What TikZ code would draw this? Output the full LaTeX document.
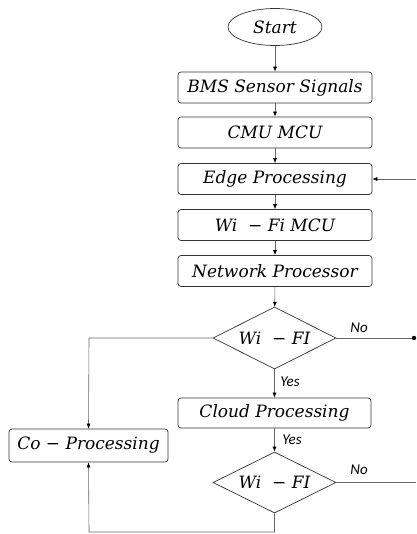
\documentclass[tikz,border=0pt]{standalone}
\usepackage{fontspec}
\newfontfamily\lblfont{Carlito}
\newfontfamily\boxfont{DejaVu Serif}
\usetikzlibrary{shapes.geometric,arrows.meta}
\begin{document}
\begin{tikzpicture}[x=1pt,y=-1pt,
  tf/.style={font=\boxfont\itshape\fontsize{17}{20}\selectfont},
  box/.style={draw=black!80,line width=0.7pt,rounded corners=3pt,minimum width=194pt,minimum height=31pt,inner sep=0pt,tf},
  dia/.style={draw=black!80,line width=0.7pt,diamond,aspect=2,minimum width=123pt,minimum height=62pt,inner sep=0pt,tf},
  conn/.style={draw=black!60,line width=0.6pt},
  arr/.style={conn,-{Latex[length=5pt,width=4pt,fill=black,color=black]}},
  lbl/.style={font=\lblfont\itshape\fontsize{15}{17}\selectfont,inner sep=1pt}]
\useasboundingbox (0,0) rectangle (416,534);
\node[draw=black!80,line width=0.7pt,ellipse,minimum width=94pt,minimum height=37pt,inner sep=0pt,tf] (start) at (275,27) {Start};
\node[box] (bms) at (275,87.5) {BMS Sensor Signals};
\node[box] (cmu) at (275,132.5) {CMU MCU};
\node[box] (edge) at (275,179) {Edge Processing};
\node[box] (wifi) at (275,225) {Wi\ \ − Fi MCU};
\node[box] (net) at (275,271) {Network Processor};
\node[dia] (d1) at (274.5,338) {Wi\ \ − FI};
\node[box,minimum width=193pt,minimum height=30pt] (cloud) at (274.5,413) {Cloud Processing};
\node[box,minimum width=159pt,minimum height=33pt] (co) at (88.5,445.5) {Co − Processing};
\node[dia,minimum height=61pt] (d2) at (274.5,482.5) {Wi\ \ − FI};
\coordinate (n1) at (414,338);
\coordinate (l1) at (89,338);
\coordinate (n2) at (416,482.5);
\coordinate (b1) at (274.5,532);
\coordinate (b2) at (89,532);
\coordinate (fb) at (416,179);
\draw[arr] (start) -- (bms);
\draw[arr] (bms) -- (cmu);
\draw[arr] (cmu) -- (edge);
\draw[arr] (edge) -- (wifi);
\draw[arr] (wifi) -- (net);
\draw[arr] (net) -- (d1);
\draw[conn] (d1.east) -- (n1);
\fill[black] (n1) circle (2.2pt);
\node[lbl] (no1) at (359,328) {No};
\draw[arr] (d1.west) -- (l1) -- (co.north);
\draw[arr] (d1.south) -- (cloud.north);
\node[lbl] (yes1) at (290,382) {Yes};
\draw[arr] (cloud.south) -- (d2.north);
\node[lbl] (yes2) at (292,440) {Yes};
\draw[conn] (d2.east) -- (n2);
\node[lbl] (no2) at (359,470) {No};
\draw[arr] (d2.south) -- (b1) -- (b2) -- (co.south);
\draw[arr] (fb) -- (edge.east);
\end{tikzpicture}
\end{document}
